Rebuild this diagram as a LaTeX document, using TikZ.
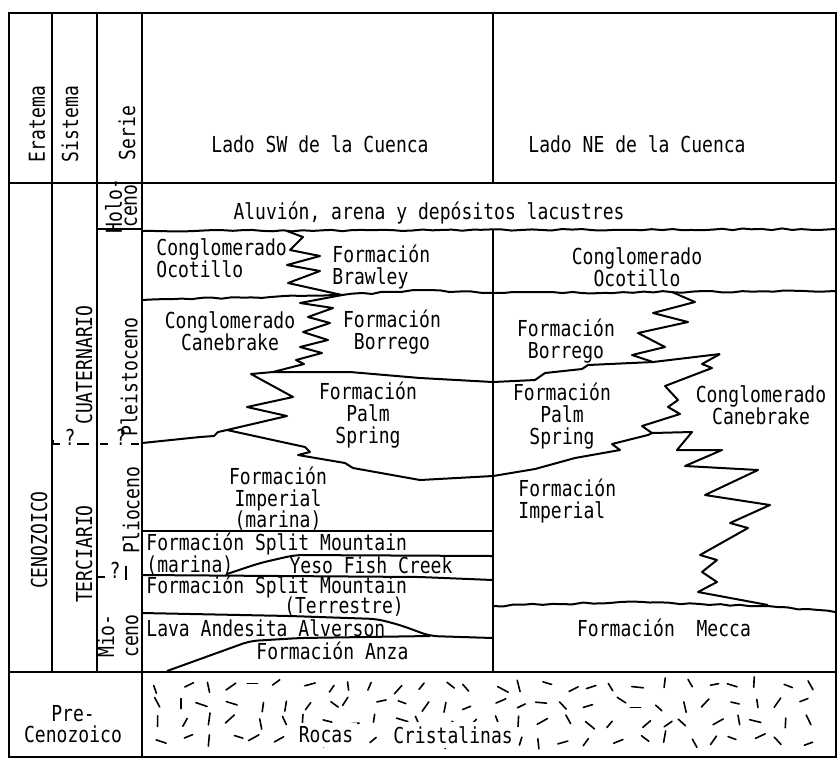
\documentclass[tikz,border=0pt]{standalone}
\usepackage{fontspec}
\newfontfamily\maq[FakeStretch=0.82]{DejaVu Sans Mono}
\usetikzlibrary{decorations.pathmorphing}

\begin{document}
\begin{tikzpicture}[x=0.5pt,y=-0.5pt,
    frame/.style={line width=0.9pt},
    contact/.style={line width=1pt, line join=round},
    wavy/.style={contact, decorate, decoration={random steps, segment length=5pt, amplitude=0.45pt}},
    txt/.style={font=\maq\fontsize{11}{10.8}\selectfont, inner sep=0pt, align=center},
    vtxt/.style={txt, rotate=90},
    rockmark/.style={line width=0.8pt, line cap=round}]
    \useasboundingbox (0,0) rectangle (839,762);
    \pgfmathsetseed{11}

    \draw[frame] (9,13) rectangle (836,757);
    \draw[frame] (9,183) -- (836,183);
    \draw[frame] (9,672) -- (836,672);
    \draw[frame] (52,13) -- (52,672);
    \draw[frame] (97,13) -- (97,672);
    \draw[frame] (142,13) -- (142,757);
    \draw[frame] (493,13) -- (493,183);
    \draw[frame] (493,230) -- (493,672);
    \draw[frame] (97,229) -- (142,229);

    \node[vtxt] (eratema) at (37,124) {Eratema};
    \node[vtxt] (sistema) at (70,124) {Sistema};
    \node[vtxt] (serie) at (127,133) {Serie};
    \node[txt] (ladoSW) at (320,144) {Lado SW de la Cuenca};
    \node[txt] (ladoNE) at (637,144) {Lado NE de la Cuenca};

    \node[vtxt, font=\maq\fontsize{11}{7.5}\selectfont] (holoceno) at (121,206) {Holo-\\ceno};
    \node[vtxt] (cuaternario) at (84,365) {CUATERNARIO};
    \node[vtxt] (terciario) at (84,554) {TERCIARIO};
    \node[vtxt] (cenozoico) at (39,540) {CENOZOICO};
    \node[vtxt] (pleistoceno) at (129,377) {Pleistoceno};
    \node[vtxt] (plioceno) at (131,510) {Plioceno};
    \node[vtxt, font=\maq\fontsize{11}{12}\selectfont] (mioceno) at (118,636) {Mio-\\ceno};
    \node[txt] (precenozoico) at (73,724) {Pre-\\Cenozoico};

    \node[txt] (dudaSis) at (70,437) {?};
    \node[txt] (dudaSer) at (121,437) {?};
    \node[txt] (dudaMio) at (115,570) {?};
    \draw[frame] (53,440) -- (53,444) -- (60,444);
    \draw[frame] (77,444) -- (89,444);
    \draw[frame] (100,444) -- (108,444);
    \draw[frame] (131,444) -- (139,444);
    \draw[frame] (97,577) -- (105,577);
    \draw[frame] (126,566) -- (126,580);

    \draw[wavy] (142,231) -- (835,229);
    \draw[wavy] (142,300) -- (342,295) -- (420,290) -- (493,293) -- (835,291);
    \draw[contact] (287,231) -- (303,237) -- (290,250) -- (320,256) -- (287,265) -- (320,271) -- (288,283) -- (342,295);
    \draw[contact] (342,295) -- (300,303) -- (333,308) -- (308,317) -- (330,323) -- (303,332) -- (328,340) -- (300,347) -- (322,353) -- (296,360) -- (304,364) -- (273,372);
    \draw[contact] (273,372) -- (350,372) -- (420,378) -- (493,382) -- (535,380) -- (545,373) -- (582,369) -- (588,365) -- (653,362) -- (720,354);
    \draw[contact] (142,443) -- (200,437) -- (214,436) -- (218,432) -- (227,430) -- (287,416) -- (247,407) -- (293,397) -- (251,374) -- (273,372);
    \draw[contact] (227,430) -- (305,447) -- (310,452) -- (298,455) -- (345,463) -- (353,468) -- (420,480) -- (493,476) -- (535,469) -- (575,458) -- (620,450) -- (612,444) -- (648,435) -- (652,433);
    \draw[contact] (672,292) -- (695,302) -- (653,313) -- (688,322) -- (638,333) -- (665,347) -- (632,355) -- (653,362);
    \draw[contact] (720,354) -- (702,364) -- (712,368) -- (665,386) -- (678,400) -- (668,407) -- (680,414) -- (642,426) -- (652,433);
    \draw[contact] (652,433) -- (692,432) -- (677,450) -- (722,450) -- (685,466) -- (758,470) -- (705,495) -- (770,505) -- (730,523) -- (748,528) -- (700,555) -- (717,560) -- (702,572) -- (717,582) -- (698,592) -- (768,605);
    \draw[wavy] (493,606) -- (620,602) -- (700,604) -- (768,606) -- (835,612);
    \draw[contact] (142,531) -- (493,531);
    \draw[contact, rounded corners=4pt] (227,574) -- (260,563) -- (295,555) -- (493,556);
    \draw[contact] (142,575) -- (420,577) -- (493,580);
    \draw[contact, rounded corners=4pt] (142,613) -- (290,616) -- (377,619) -- (400,625) -- (430,636) -- (493,638);
    \draw[contact, rounded corners=4pt] (167,671) -- (250,641) -- (300,638) -- (430,636);

    \node[txt] (aluvion) at (429,213) {Aluvión, arena y depósitos lacustres};
    \node[txt, align=left, anchor=west] (conglOcoSW) at (156,258) {Conglomerado\\Ocotillo};
    \node[txt, align=left, anchor=west] (brawley) at (332,267) {Formación\\Brawley};
    \node[txt] (conglOcoNE) at (637,267) {Conglomerado\\Ocotillo};
    \node[txt] (conglCaneSW) at (230,331) {Conglomerado\\Canebrake};
    \node[txt] (borregoSW) at (392,332) {Formación\\Borrego};
    \node[txt] (palmSW) at (368,415) {Formación\\Palm\\Spring};
    \node[txt] (borregoNE) at (566,341) {Formación\\Borrego};
    \node[txt] (palmNE) at (562,416) {Formación\\Palm\\Spring};
    \node[txt] (conglCaneNE) at (761,405) {Conglomerado\\Canebrake};
    \node[txt] (imperialSW) at (278,499) {Formación\\Imperial\\(marina)};
    \node[txt, align=left, anchor=west] (imperialNE) at (518,501) {Formación\\Imperial};
    \node[txt, align=left, anchor=west] (splitMar) at (146,554) {Formación Split Mountain\\(marina)};
    \node[txt] (yeso) at (371,565) {Yeso Fish Creek};
    \node[txt, anchor=west] (splitTer) at (146,587) {Formación Split Mountain};
    \node[txt] (terrestre) at (344,607) {(Terrestre)};
    \node[txt, anchor=west] (lava) at (146,628) {Lava Andesita Alverson};
    \node[txt, anchor=west] (anza) at (256,651) {Formación Anza};
    \node[txt] (mecca) at (664,628) {Formación~~Mecca};

    \foreach \i in {0,...,27}{
      \foreach \j in {0,...,3}{
        \pgfmathsetmacro{\mx}{160+24*\i+7*rand}
        \pgfmathsetmacro{\my}{686+18*\j+4*rand}
        \pgfmathsetmacro{\ma}{random(0,179)}
        \pgfmathsetmacro{\mb}{\ma+180}
        \pgfmathsetmacro{\ml}{4+2*rnd}
        \draw[rockmark] (\mx,\my) +(\ma:\ml) -- +(\mb:\ml);
      }
    }
    \node[txt, fill=white, inner sep=2pt] (rocas) at (326,735) {Rocas};
    \node[txt, fill=white, inner sep=2pt] (cristalinas) at (453,735) {Cristalinas};
\end{tikzpicture}
\end{document}
